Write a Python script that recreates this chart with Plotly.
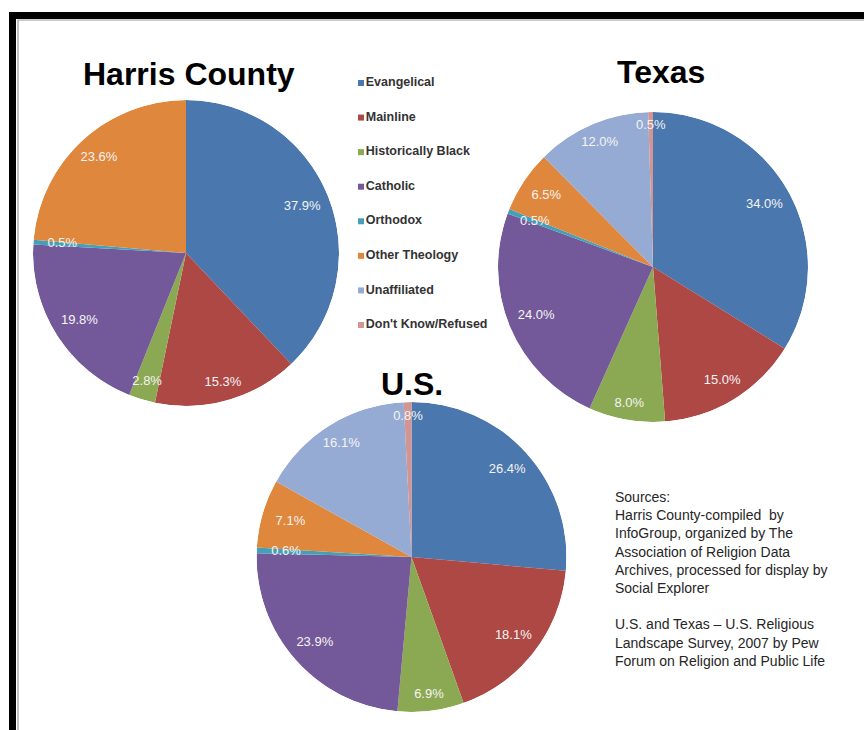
import math
import plotly.graph_objects as go

# ---------------- data ----------------
categories = ["Evangelical", "Mainline", "Historically Black", "Catholic",
              "Orthodox", "Other Theology", "Unaffiliated", "Don't Know/Refused"]
harris = [37.9, 15.3, 2.8, 19.8, 0.5, 23.6, 0, 0]
texas = [34.0, 15.0, 8.0, 24.0, 0.5, 6.5, 12.0, 0.5]
us = [26.4, 18.1, 6.9, 23.9, 0.6, 7.1, 16.1, 0.8]
titles = ["Harris County", "Texas", "U.S."]
sources = ["Sources:",
           "Harris County-compiled  by",
           "InfoGroup, organized by The",
           "Association of Religion Data",
           "Archives, processed for display by",
           "Social Explorer",
           "",
           "U.S. and Texas \u2013 U.S. Religious",
           "Landscape Survey, 2007 by Pew",
           "Forum on Religion and Public Life"]

colors = ["#4A77AD", "#AE4845", "#8BA853", "#74599A",
          "#44A0B8", "#E0873E", "#96ABD3", "#D39594"]

W, H = 864, 730
FONT = "Liberation Sans, Arial, sans-serif"


def px_domain(cx, cy, r):
    return dict(x=[(cx - r) / W, (cx + r) / W],
                y=[1 - (cy + r) / H, 1 - (cy - r) / H])


fig = go.Figure()

pies = [
    (harris, "polar", (186, 253, 153), (189, 74)),
    (texas, "polar2", (653, 267, 155), (661, 72)),
    (us, "polar3", (411.5, 557, 155), (412, 384)),
]

layout_polars = {}
annotations = []
for (vals, sub, geom, tpos), title in zip(pies, titles):
    total = sum(vals)
    cum = 0.0
    thetas, widths, cols, labels = [], [], [], []
    for v, c in zip(vals, colors):
        if v <= 0:
            continue
        w = v / total * 360.0
        thetas.append(cum + w / 2)
        widths.append(w)
        cols.append(c)
        labels.append(f"{v:.1f}%")
        cum += w
    fig.add_trace(go.Barpolar(
        r=[1] * len(thetas), theta=thetas, width=widths,
        marker=dict(color=cols, line=dict(width=0)),
        subplot=sub, showlegend=False, hoverinfo="skip"))
    lab_r = [0.91 - 0.1 * abs(math.sin(math.radians(t))) for t in thetas]
    fig.add_trace(go.Scatterpolar(
        r=lab_r, theta=thetas, mode="text", text=labels,
        textfont=dict(color="#F4F4F4", size=13, family=FONT),
        subplot=sub, showlegend=False, hoverinfo="skip"))
    layout_polars[sub] = dict(
        domain=px_domain(*geom),
        bgcolor="rgba(0,0,0,0)",
        bargap=0,
        radialaxis=dict(visible=False, range=[0, 1]),
        angularaxis=dict(visible=False, direction="clockwise", rotation=90),
    )
    annotations.append(dict(
        text=title, x=tpos[0] / W, y=1 - tpos[1] / H, xref="paper", yref="paper",
        xanchor="center", yanchor="middle", showarrow=False,
        font=dict(family=FONT, size=32, color="#000000", weight="bold")))

# legend built as a scatter on hidden axes
fig.add_trace(go.Scatter(
    x=[0] * len(categories), y=list(range(len(categories))),
    mode="markers+text", text=categories, textposition="middle right",
    marker=dict(symbol="square", size=6, color=colors),
    textfont=dict(family=FONT, size=12.5, color="#333333", weight="bold"),
    cliponaxis=False, showlegend=False, hoverinfo="skip",
    xaxis="x", yaxis="y"))

annotations.append(dict(
    text="<br>".join(sources), x=613 / W, y=1 - 487 / H, xref="paper", yref="paper",
    xanchor="left", yanchor="top", align="left", showarrow=False,
    font=dict(family=FONT, size=14, color="#262626")))

shapes = [
    dict(type="rect", xref="paper", yref="paper",
         x0=12.5 / W, x1=1.03, y0=-0.03, y1=1 - 15.5 / H,
         line=dict(color="#000000", width=7), fillcolor="rgba(0,0,0,0)"),
    dict(type="rect", xref="paper", yref="paper",
         x0=18 / W, x1=1.03, y0=-0.03, y1=1 - 20 / H,
         line=dict(color="#9a9a9a", width=1.2), fillcolor="rgba(0,0,0,0)"),
]

fig.update_layout(
    width=W, height=H,
    margin=dict(l=0, r=0, t=0, b=0),
    paper_bgcolor="white", plot_bgcolor="rgba(0,0,0,0)",
    showlegend=False,
    xaxis=dict(domain=[361 / W, 0.6], range=[0, 1], visible=False, fixedrange=True),
    yaxis=dict(domain=[1 - 325 / H, 1 - 83 / H], range=[7, 0], visible=False, fixedrange=True),
    annotations=annotations,
    shapes=shapes,
    **layout_polars,
)

fig.write_html("out.html", config={"displayModeBar": False})
